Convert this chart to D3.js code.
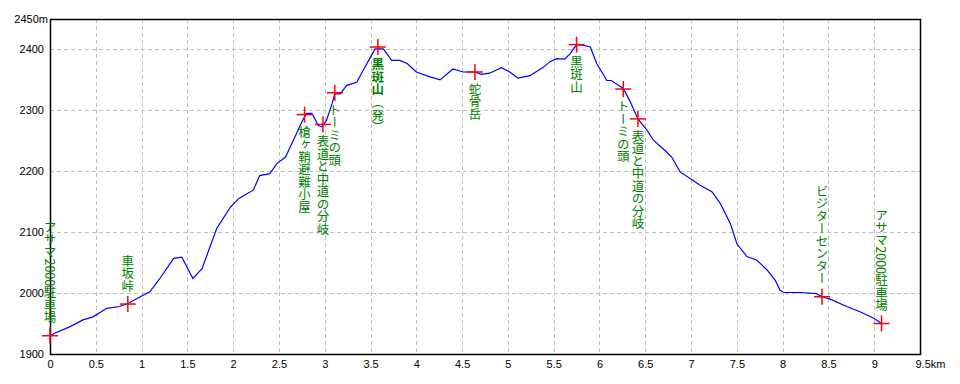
<!DOCTYPE html>
<html><head><meta charset="utf-8">
<script src="https://cdn.jsdelivr.net/npm/d3@7"></script>
<style>
html,body{margin:0;padding:0;background:#fff;}
svg text{font-family:"Liberation Sans","DejaVu Sans",sans-serif;}
</style></head>
<body><svg id="c" width="960" height="384"></svg>
<script>
// profile: distance (km) and elevation (m)
const distKm = [0,0.05,0.22,0.36,0.47,0.62,0.76,0.85,0.95,1.09,1.20,1.35,1.44,1.56,1.66,1.82,1.97,2.06,2.15,2.22,2.29,2.40,2.48,2.57,2.64,2.75,2.80,2.86,2.93,2.97,3.02,3.08,3.11,3.17,3.24,3.35,3.42,3.48,3.55,3.64,3.73,3.82,3.90,4.00,4.15,4.26,4.40,4.51,4.64,4.71,4.80,4.93,5.02,5.11,5.24,5.39,5.46,5.53,5.62,5.68,5.75,5.82,5.90,5.97,6.08,6.13,6.21,6.26,6.33,6.42,6.52,6.59,6.73,6.79,6.88,6.99,7.10,7.23,7.32,7.43,7.50,7.61,7.72,7.83,7.92,7.97,8.01,8.19,8.37,8.43,8.52,8.70,8.85,8.99,9.06,9.08];
const elevM  = [1930,1934,1945,1956,1961,1975,1978,1983,1991,2002,2024,2057,2059,2024,2040,2106,2141,2155,2163,2169,2193,2196,2213,2223,2245,2281,2295,2295,2275,2273,2284,2311,2327,2327,2341,2346,2366,2382,2401,2401,2382,2382,2377,2363,2355,2350,2368,2363,2363,2359,2361,2370,2363,2353,2357,2371,2380,2385,2384,2393,2408,2407,2404,2377,2349,2349,2341,2336,2316,2286,2267,2251,2232,2223,2199,2188,2177,2166,2147,2114,2081,2060,2054,2038,2021,2005,2001,2001,1999,1994,1990,1978,1969,1959,1952,1950];

// waypoints
const wpName = ["アサマ2000駐車場","車坂峠","槍ヶ鞘避難小屋","表道と中道の分岐","トーミの頭","黒斑山","蛇骨岳","黒斑山","トーミの頭","表道と中道の分岐","ビジターセンター","アサマ2000駐車場"];
const wpNote = ["","","","","","（発）","","","","","",""];
const wpKm   = [0,0.85,2.78,2.98,3.11,3.58,4.64,5.75,6.26,6.42,8.43,9.08];
const wpM    = [1930,1982,2293,2277,2329,2404,2363,2408,2335,2286,1994,1950];
const wpSide = ["above","above","below","below","below","below","below","below","below","below","above","above"];

const xTicks = [0,0.5,1,1.5,2,2.5,3,3.5,4,4.5,5,5.5,6,6.5,7,7.5,8,8.5,9,9.5];
const xTickLabels = ["0","0.5","1","1.5","2","2.5","3","3.5","4","4.5","5","5.5","6","6.5","7","7.5","8","8.5","9","9.5km"];
const yTicks = [1900,2000,2100,2200,2300,2400,2450];
const yTickLabels = ["1900","2000","2100","2200","2300","2400","2450m"];

const L=50,R=920,T=19,B=354;
const x = d3.scaleLinear().domain([0,9.5]).range([L,R]);
const y = d3.scaleLinear().domain([1900,2450]).range([B,T]);
const svg = d3.select("#c");

// grid
const g = svg.append("g");
g.selectAll("line.vx").data(xTicks.filter(v=>v>0&&v<9.5)).join("line")
  .attr("x1",d=>Math.round(x(d))+0.5).attr("x2",d=>Math.round(x(d))+0.5)
  .attr("y1",T).attr("y2",B).attr("stroke","#c0c0c0").attr("stroke-dasharray","4,3");
g.selectAll("line.hy").data(yTicks.filter(v=>v>1900&&v<2450)).join("line")
  .attr("y1",d=>Math.round(y(d))+0.5).attr("y2",d=>Math.round(y(d))+0.5)
  .attr("x1",L).attr("x2",R).attr("stroke","#c0c0c0").attr("stroke-dasharray","4,3");

// frame
svg.append("rect").attr("x",L+0.5).attr("y",T+0.5).attr("width",R-L).attr("height",B-T)
  .attr("fill","none").attr("stroke","#000").attr("stroke-width",1.5);

// axes (labels only)
const xa = d3.axisBottom(x).tickValues(xTicks).tickSize(0).tickPadding(6).tickFormat((d,i)=>xTickLabels[i]);
const xg = svg.append("g").attr("transform",`translate(0,${B})`).call(xa);
xg.select(".domain").remove();
xg.selectAll("text").attr("font-size",11).attr("fill","#000");
xg.selectAll(".tick").filter(d=>d===9.5).select("text").attr("text-anchor","start").attr("dx",-5);

const ya = d3.axisLeft(y).tickValues(yTicks).tickSize(0).tickPadding(6).tickFormat((d,i)=>yTickLabels[i]);
const yg = svg.append("g").attr("transform",`translate(${L},0)`).call(ya);
yg.select(".domain").remove();
yg.selectAll("text").attr("font-size",11).attr("fill","#000");
yg.selectAll(".tick").filter(d=>d===2450).select("text").attr("dx",4);

// profile line
const pts = distKm.map((d,i)=>[d,elevM[i]]);
svg.append("path").datum(pts)
  .attr("d",d3.line().x(d=>x(d[0])).y(d=>y(d[1])))
  .attr("fill","none").attr("stroke","#0000ff").attr("stroke-width",1.2);

// markers
const wp = wpName.map((n,i)=>({n,note:wpNote[i],km:wpKm[i],m:wpM[i],side:wpSide[i]}));
const mk = svg.append("g");
wp.forEach(d=>{
  const cx=x(d.km), cy=y(d.m);
  mk.append("line").attr("x1",cx-8).attr("x2",cx+8).attr("y1",cy).attr("y2",cy).attr("stroke","#ff0000").attr("stroke-width",1.5);
  mk.append("line").attr("x1",cx).attr("x2",cx).attr("y1",cy-8).attr("y2",cy+8).attr("stroke","#ff0000").attr("stroke-width",1.5);
});

// labels (vertical)
const lab = svg.append("g");
wp.forEach(d=>{
  const cx=x(d.km), cy=y(d.m);
  const t = lab.append("text")
    .attr("x",cx).attr("y", d.side==="above"? cy-12 : cy+11)
    .attr("writing-mode","tb")
    .attr("text-anchor", d.side==="above"?"end":"start")
    .attr("font-size",12.5).attr("fill","#008000")
    .style("font-family","'Noto Sans CJK JP',sans-serif");
  if(d.note){
    t.append("tspan").attr("font-weight","bold").text(d.n);
    t.append("tspan").text(d.note);
  } else t.text(d.n);
});
</script></body></html>
